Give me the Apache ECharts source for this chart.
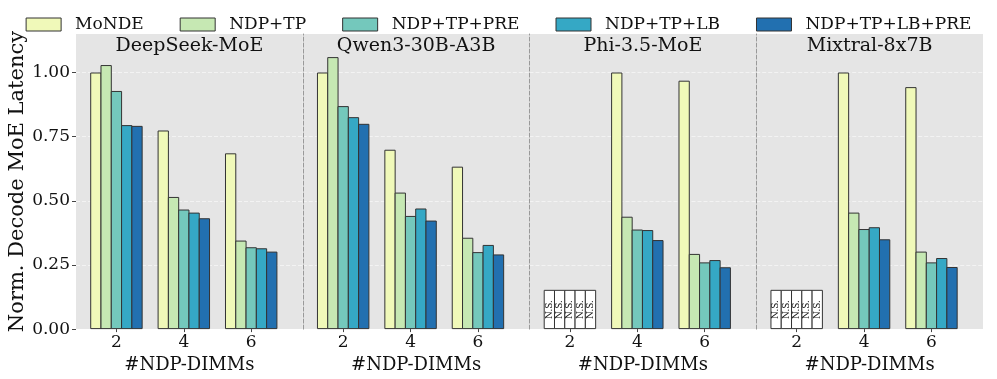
<!DOCTYPE html>
<html>
<head>
<meta charset="utf-8">
<script src="https://cdn.jsdelivr.net/npm/echarts@6/dist/echarts.min.js"></script>
<style>
html,body{margin:0;padding:0;background:#fff;}
#chart{width:997px;height:379px;}
</style>
</head>
<body>
<div id="chart"></div>
<script>
// x positions (#NDP-DIMMs)
const dimms = [2, 4, 6];
const models = ['DeepSeek-MoE', 'Qwen3-30B-A3B', 'Phi-3.5-MoE', 'Mixtral-8x7B'];
const methods = ['MoNDE', 'NDP+TP', 'NDP+TP+PRE', 'NDP+TP+LB', 'NDP+TP+LB+PRE'];
const colors = ['#f0f9b9', '#c6e8b3', '#74c8bc', '#35a8c5', '#2270b0'];

// rows: methods, cols: 2 / 4 / 6 DIMMs  (null = not supported)
const deepseekVals = [
	[1.00, 0.774, 0.685],
	[1.029, 0.515, 0.345],
	[0.928, 0.466, 0.319],
	[0.795, 0.454, 0.315],
	[0.792, 0.432, 0.302]
];
const qwenVals = [
	[1.00, 0.699, 0.633],
	[1.06, 0.532, 0.356],
	[0.869, 0.441, 0.300],
	[0.826, 0.470, 0.328],
	[0.800, 0.423, 0.291]
];
const phiVals = [
	[null, 1.00, 0.968],
	[null, 0.438, 0.293],
	[null, 0.388, 0.260],
	[null, 0.386, 0.269],
	[null, 0.347, 0.241]
];
const mixtralVals = [
	[null, 1.00, 0.943],
	[null, 0.454, 0.302],
	[null, 0.390, 0.260],
	[null, 0.397, 0.277],
	[null, 0.350, 0.242]
];
const nsValue = 0.153;
const allVals = [deepseekVals, qwenVals, phiVals, mixtralVals];

let chart = echarts.init(document.getElementById('chart'));
const font = 'DejaVu Serif';
const left0 = 76, panelW = 226.75, gridTop = 34, gridBottom = 379 - 332;

let grids = [], xAxes = [], yAxes = [], titles = [], series = [];
models.forEach(function (m, i) {
	grids.push({
		left: left0 + i * panelW, width: panelW, top: gridTop, bottom: gridBottom,
		show: true, backgroundColor: '#e5e5e5', borderWidth: 0
	});
	titles.push({
		text: m, left: left0 + i * panelW + panelW / 2, top: 37, textAlign: 'center', padding: 0,
		textStyle: {fontFamily: font, fontSize: 19, fontWeight: 'normal', color: '#111'}
	});
	xAxes.push({
		type: 'value', gridIndex: i, min: 0.8, max: 7.53,
		name: '#NDP-DIMMs', nameLocation: 'middle', nameGap: 21,
		nameTextStyle: {fontFamily: font, fontSize: 18, color: '#111'},
		axisLine: {show: false},
		axisTick: {show: true, customValues: dimms, length: 3, lineStyle: {color: '#444'}},
		axisLabel: {customValues: dimms, fontFamily: font, fontSize: 17, color: '#111', margin: 5},
		splitLine: {show: false}
	});
	yAxes.push({
		type: 'value', gridIndex: i, min: 0, max: 1.15, interval: 0.25,
		name: i === 0 ? 'Norm. Decode MoE Latency' : '',
		nameLocation: 'middle', nameGap: 45,
		nameTextStyle: {fontFamily: font, fontSize: 21, color: '#111'},
		axisLine: {show: i > 0, lineStyle: {color: '#999', type: 'dashed', width: 1}},
		axisTick: {show: i === 0, length: 4, lineStyle: {color: '#444'}},
		axisLabel: {show: i === 0, fontFamily: font, fontSize: 17, color: '#111', margin: 6,
			showMaxLabel: false, formatter: function (v) { return v.toFixed(2); }},
		splitLine: {show: true, showMaxLine: false, showMinLine: false,
			lineStyle: {color: '#f3f3f3', type: 'dashed', width: 1}}
	});
	methods.forEach(function (name, j) {
		let data = dimms.map(function (d, k) {
			let v = allVals[i][j][k];
			if (v === null) {
				return {
					value: [d, nsValue],
					itemStyle: {color: '#ffffff'},
					label: {show: true, formatter: 'N.S.', position: 'inside', rotate: 90,
						fontFamily: font, fontSize: 9, color: '#111'}
				};
			}
			return [d, v];
		});
		series.push({
			type: 'bar', name: name, xAxisIndex: i, yAxisIndex: i,
			data: data, barWidth: 11.3, barGap: '-9%',
			itemStyle: {color: colors[j], borderColor: '#333', borderWidth: 1},
			emphasis: {disabled: true}
		});
	});
});

chart.setOption({
	animation: false,
	title: titles,
	legend: {
		data: methods, top: 11, left: 'center',
		itemWidth: 35, itemHeight: 13, itemGap: 36,
		icon: 'rect',
		itemStyle: {borderColor: '#333', borderWidth: 1},
		textStyle: {fontFamily: font, fontSize: 17, color: '#111', padding: [0, 0, 0, 9]}
	},
	grid: grids,
	xAxis: xAxes,
	yAxis: yAxes,
	series: series
});
</script>
</body>
</html>
